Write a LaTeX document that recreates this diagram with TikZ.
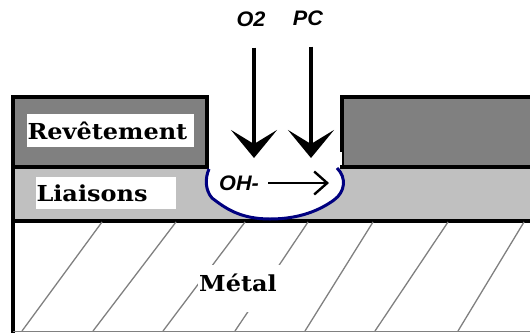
\documentclass[tikz,border=0pt]{standalone}
\usepackage{fontspec}
\newfontfamily\layerfont[FakeStretch=1.09]{DejaVu Serif Bold}
\newfontfamily\gasfont[FakeStretch=1.03]{Liberation Sans Bold Italic}
\usetikzlibrary{arrows.meta, calc, positioning}
\definecolor{coatGray}{HTML}{808080}
\definecolor{bondGray}{HTML}{C0C0C0}
\definecolor{pitBlue}{HTML}{000080}
\tikzset{
  layerbox/.style = {draw=black, line width=4pt},
  layerlabel/.style = {fill=white, inner sep=0pt, font=\layerfont\fontsize{22}{24}\selectfont},
  gaslabel/.style = {font=\gasfont\fontsize{21}{23}\selectfont, inner sep=0pt},
  hatch/.style = {draw=black!50, line width=1.3pt},
  bigarrow/.style = {line width=4pt, -{Stealth[length=28pt, width=46pt, inset=14pt]}},
  smallarrow/.style = {line width=2.4pt, -{Straight Barb[length=13pt, width=23pt]}}
}
\begin{document}
\begin{tikzpicture}[x=1pt, y=-1pt]
\useasboundingbox (0,0) rectangle (530,333);
%----------------------------------------------------------------------------
% Layers
\fill [bondGray] (13,168) rectangle (530,219);
\fill [coatGray] (13,97) rectangle (206.5,167);
\fill [coatGray] (341.5,97) rectangle (530,167);
\draw [layerbox] (13,167) -- (13,97) -- (206.5,97) -- (206.5,167) -- cycle;
\draw [layerbox] (530,97) -- (341.5,97) -- (341.5,167) -- (530,167);
\draw [draw=black, line width=4pt] (13,165) -- (13,333);
\draw [layerbox] (11,220.5) -- (530,220.5);
\draw [draw=black!50, line width=1pt] (13,331.5) -- (530,331.5);
%----------------------------------------------------------------------------
% Hatching of the metal
\foreach \xtop/\xbot in {102/22, 176/93, 245/163, 308/235, 373/305, 448/375, 524/458}
  \draw [hatch] (\xtop,222) -- (\xbot,331);
\fill [white] (198,265) rectangle (285,312);
%----------------------------------------------------------------------------
% Pit
\fill [white] (209,169) .. controls (205,178) and (205,190) .. (212,198)
  .. controls (225,208) and (240,219) .. (270,219)
  .. controls (300,219) and (320,210) .. (334,200)
  .. controls (345,192) and (347,178) .. (337,168) -- cycle;
\fill [white] (208.5,165) rectangle (339,171);
\draw [draw=pitBlue, line width=3pt]
  (209,169) .. controls (205,178) and (205,190) .. (212,198)
  .. controls (225,208) and (240,219) .. (270,219)
  .. controls (300,219) and (320,210) .. (334,200)
  .. controls (345,192) and (347,178) .. (337,168);
\fill [white] (339.5,152) rectangle (342,165);
%----------------------------------------------------------------------------
% Labels
\node (coating) [layerlabel, minimum width=167pt, minimum height=33pt, text width=166pt, align=left] at (110.5,130.5) {Revêtement};
\node (bonding) [layerlabel, minimum width=140pt, minimum height=32pt, text width=139pt, align=left] at (106,193) {Liaisons};
\node (metal) [layerlabel, fill=none] at (238,283) {Métal};
\node (oxygen) [gaslabel] at (251,19) {O2};
\node (pc) [gaslabel] at (308,18) {PC};
\node (hydroxide) [gaslabel] at (239,183) {OH-};
%----------------------------------------------------------------------------
% Arrows
\coordinate (oxygenEnd) at (254,158);
\coordinate (pcEnd) at (311,158);
\coordinate (hydroxideEnd) at (329,183);
\draw [bigarrow] (oxygen.south -| oxygenEnd) ++(0,21) -- (oxygenEnd);
\draw [bigarrow] (pc.south -| pcEnd) ++(0,21) -- (pcEnd);
\draw [smallarrow] (hydroxide.east) ++(9,0) -- (hydroxideEnd);
\end{tikzpicture}
\end{document}
